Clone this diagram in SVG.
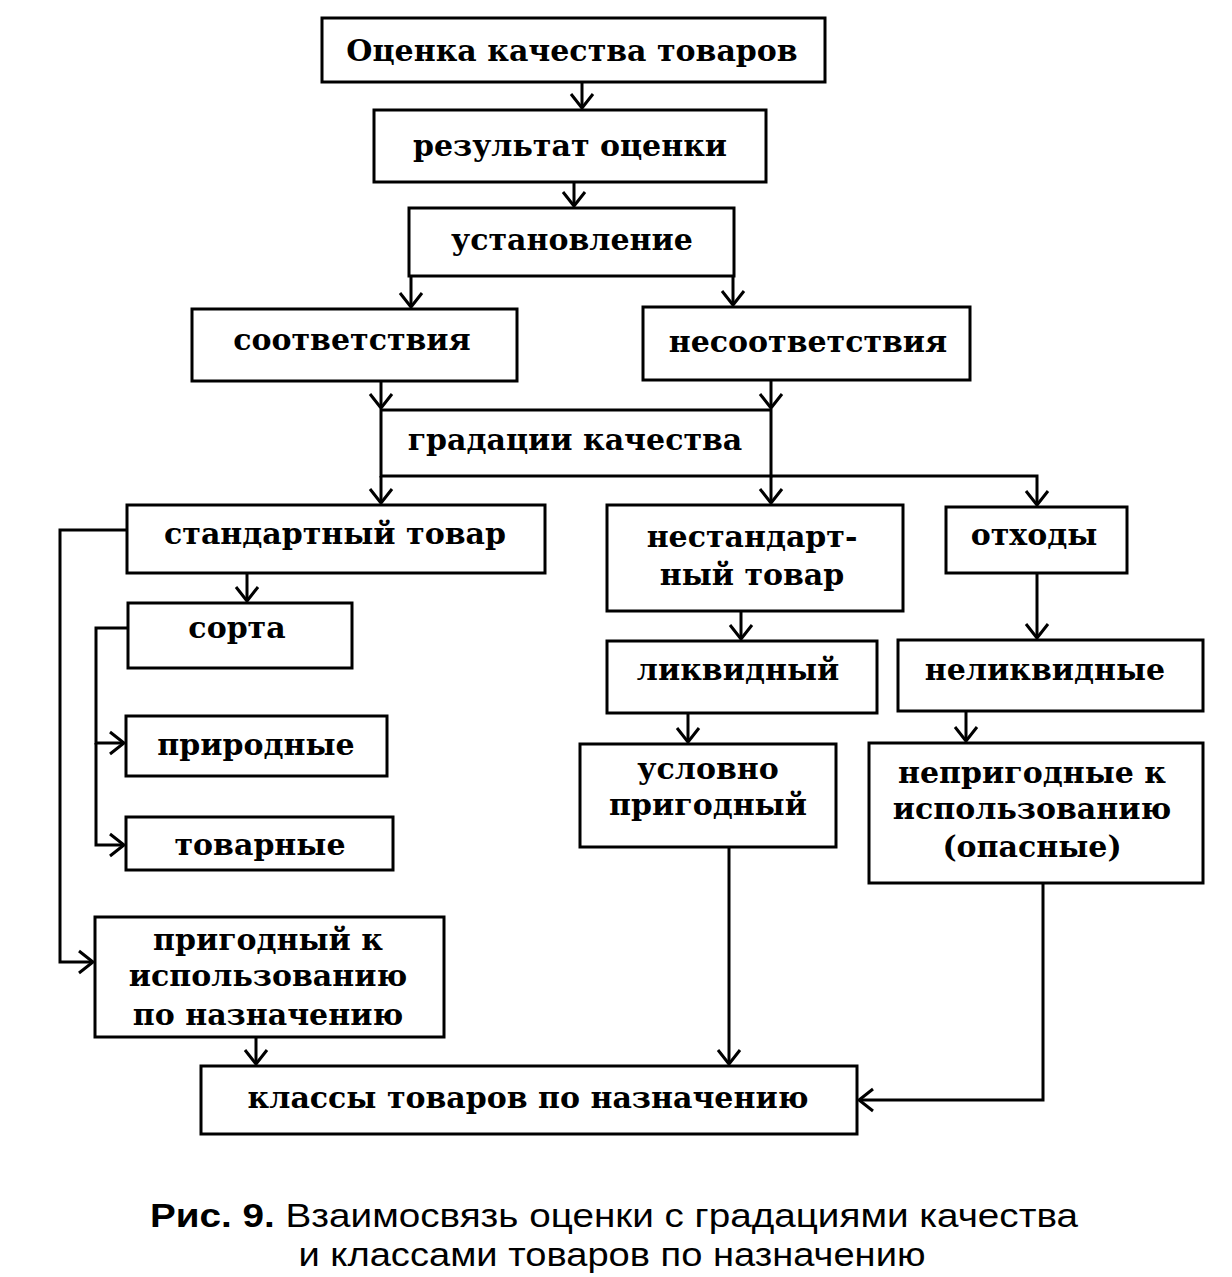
<svg xmlns="http://www.w3.org/2000/svg" width="1232" height="1277" viewBox="0 0 1232 1277">
<defs>
<marker id="arr" viewBox="-16 -13 19 26" refX="0" refY="0" markerWidth="19" markerHeight="26" markerUnits="userSpaceOnUse" orient="auto">
<path d="M-14,-11 L0,0 L-14,11" fill="none" stroke="#000" stroke-width="3"/>
</marker>
<style>
rect{fill:#fff;stroke:#000;stroke-width:3}
text{font-family:"DejaVu Serif","Liberation Serif",serif;font-size:30px;font-weight:bold;text-anchor:middle;fill:#000}
.c path{fill:none;stroke:#000;stroke-width:3}
.cap{font-family:"Liberation Sans",Arial,sans-serif;font-weight:normal;font-size:34px}
.capb{font-weight:bold}
</style>
</defs>
<rect x="0" y="0" width="1232" height="1277" style="fill:#fff;stroke:none"/>
<g class="c" id="connectors">
<path d="M582,82 V108" marker-end="url(#arr)"/>
<path d="M574,182 V206" marker-end="url(#arr)"/>
<path d="M411,276 V307" marker-end="url(#arr)"/>
<path d="M733,276 V305" marker-end="url(#arr)"/>
<path d="M381,381 V408" marker-end="url(#arr)"/>
<path d="M771,380 V408" marker-end="url(#arr)"/>
<path d="M381,476 V503" marker-end="url(#arr)"/>
<path d="M771,476 V503" marker-end="url(#arr)"/>
<path d="M771,476 H1037 V505" marker-end="url(#arr)"/>
<path d="M247,573 V601" marker-end="url(#arr)"/>
<path d="M128,628 H96 V743 H124" marker-end="url(#arr)"/>
<path d="M96,743 V845 H124" marker-end="url(#arr)"/>
<path d="M127,530 H60 V962 H93" marker-end="url(#arr)"/>
<path d="M741,611 V639" marker-end="url(#arr)"/>
<path d="M1037,573 V638" marker-end="url(#arr)"/>
<path d="M688,713 V742" marker-end="url(#arr)"/>
<path d="M966,711 V741" marker-end="url(#arr)"/>
<path d="M729,847 V1064" marker-end="url(#arr)"/>
<path d="M1043,883 V1100 H859" marker-end="url(#arr)"/>
<path d="M256,1037 V1064" marker-end="url(#arr)"/>
</g>
<g id="n1"><rect x="322" y="18" width="503" height="64"/><text x="572" y="61">Оценка качества товаров</text></g>
<g id="n2"><rect x="374" y="110" width="392" height="72"/><text x="570" y="156">результат оценки</text></g>
<g id="n3"><rect x="409" y="208" width="325" height="68"/><text x="572" y="250">установление</text></g>
<g id="n4"><rect x="192" y="309" width="325" height="72"/><text x="352" y="350">соответствия</text></g>
<g id="n5"><rect x="643" y="307" width="327" height="73"/><text x="808" y="352">несоответствия</text></g>
<g id="n6"><rect x="381" y="410" width="390" height="66"/><text x="575" y="450">градации качества</text></g>
<g id="n7"><rect x="127" y="505" width="418" height="68"/><text x="335" y="544">стандартный товар</text></g>
<g id="n8"><rect x="607" y="505" width="296" height="106"/><text x="752" y="547">нестандарт-</text><text x="752" y="585">ный товар</text></g>
<g id="n9"><rect x="946" y="507" width="181" height="66"/><text x="1034" y="545">отходы</text></g>
<g id="n10"><rect x="128" y="603" width="224" height="65"/><text x="237" y="638">сорта</text></g>
<g id="n11"><rect x="126" y="716" width="261" height="60"/><text x="256" y="755">природные</text></g>
<g id="n12"><rect x="126" y="817" width="267" height="53"/><text x="260" y="855">товарные</text></g>
<g id="n13"><rect x="607" y="641" width="270" height="72"/><text x="738" y="680">ликвидный</text></g>
<g id="n14"><rect x="898" y="640" width="305" height="71"/><text x="1045" y="680">неликвидные</text></g>
<g id="n15"><rect x="580" y="744" width="256" height="103"/><text x="708" y="779">условно</text><text x="708" y="815">пригодный</text></g>
<g id="n16"><rect x="869" y="743" width="334" height="140"/><text x="1032" y="783">непригодные к</text><text x="1032" y="819">использованию</text><text x="1032" y="857">(опасные)</text></g>
<g id="n17"><rect x="95" y="917" width="349" height="120"/><text x="268" y="950">пригодный к</text><text x="268" y="986">использованию</text><text x="268" y="1025">по назначению</text></g>
<g id="n18"><rect x="201" y="1066" width="656" height="68"/><text x="528" y="1108">классы товаров по назначению</text></g>
<g id="caption">
<text class="cap" x="614" y="1227" textLength="928" lengthAdjust="spacingAndGlyphs"><tspan class="capb">Рис. 9.</tspan> Взаимосвязь оценки с градациями качества</text>
<text class="cap" x="612" y="1266" textLength="627" lengthAdjust="spacingAndGlyphs">и классами товаров по назначению</text>
</g>
</svg>
